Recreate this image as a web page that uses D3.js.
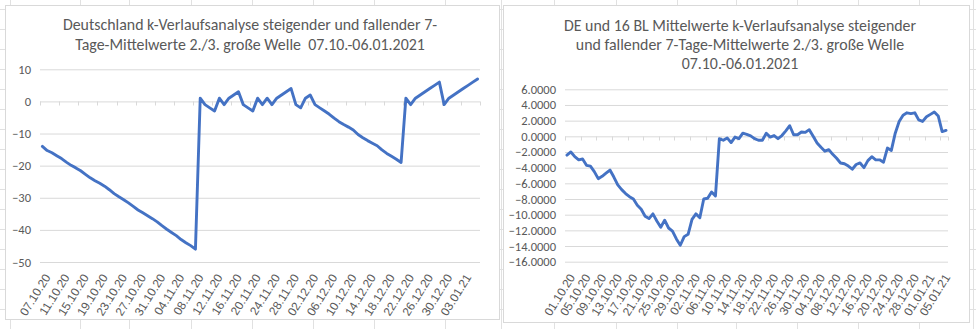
<!DOCTYPE html>
<html><head><meta charset="utf-8">
<script src="https://cdn.jsdelivr.net/npm/d3@7"></script>
<style>
html,body{margin:0;padding:0;background:#fff;}
svg{display:block;font-family:Carlito,Calibri,Lato,"Open Sans",sans-serif;}
</style></head>
<body><svg id="c" width="976" height="329"></svg>
<script>
// ---------- DATA ----------
const leftTitle = ["Deutschland k-Verlaufsanalyse steigender und fallender 7-",
                   "Tage-Mittelwerte 2./3. große Welle  07.10.-06.01.2021"];
const rightTitle = ["DE und 16 BL Mittelwerte k-Verlaufsanalyse steigender",
                    "und fallender 7-Tage-Mittelwerte 2./3. große Welle",
                    "07.10.-06.01.2021"];
const fmt = d3.timeFormat("%d.%m.%y");
const leftCategories = d3.timeDay.range(new Date(2020,9,7), new Date(2021,0,7)).map(fmt);
const rightCategories = d3.timeDay.range(new Date(2020,9,1), new Date(2021,0,7)).map(fmt);
const leftTickLabels = ["07.10.20","11.10.20","15.10.20","19.10.20","23.10.20","27.10.20","31.10.20",
  "04.11.20","08.11.20","12.11.20","16.11.20","20.11.20","24.11.20","28.11.20","02.12.20","06.12.20",
  "10.12.20","14.12.20","18.12.20","22.12.20","26.12.20","30.12.20","03.01.21"];
const rightTickLabels = ["01.10.20","05.10.20","09.10.20","13.10.20","17.10.20","21.10.20","25.10.20",
  "29.10.20","02.11.20","06.11.20","10.11.20","14.11.20","18.11.20","22.11.20","26.11.20","30.11.20",
  "04.12.20","08.12.20","12.12.20","16.12.20","20.12.20","24.12.20","28.12.20","01.01.21","05.01.21"];
const leftYTicks = [10,0,-10,-20,-30,-40,-50];
const rightYTicks = [6,4,2,0,-2,-4,-6,-8,-10,-12,-14,-16];
const leftValues = [
  -14,-15.3,-16,-16.9,-17.8,-18.9,-19.9,-20.7,-21.6,-22.7,-23.8,-24.7,-25.5,-26.4,-27.5,-28.7,
  -29.7,-30.6,-31.6,-32.7,-33.8,-34.7,-35.6,-36.5,-37.5,-38.7,-39.8,-40.8,-41.8,-43,-44,-44.9,-46,
  1,-1,-2,-3,1,-1,1,2,3,-1,-2,-3,1,-1,1,-1,1,2,3,4,-1,-2,1,2,-1,
  -2,-3,-4,-5.2,-6.3,-7.2,-8,-8.9,-10.3,-11.3,-12.2,-13,-13.8,-15.1,-16.2,-17.1,-18,-19,
  1,-1,1,2,3,4,5,6,-1,1,2,3,4,5,6,7];
const rightValues = [
  -2.4,-2.0,-2.6,-3.0,-2.9,-3.7,-3.8,-4.5,-5.4,-5.1,
  -4.7,-4.3,-5.2,-6.2,-6.8,-7.3,-7.7,-8.0,-8.8,-9.3,
  -10.2,-10.5,-9.9,-10.8,-11.6,-10.7,-11.7,-12.1,-13.1,-13.9,
  -12.8,-12.5,-10.6,-9.9,-10.4,-8.0,-7.9,-7.1,-7.6,-0.3,
  -0.5,-0.2,-0.8,-0.1,-0.3,0.4,0.25,0.05,-0.3,-0.5,
  -0.5,0.4,-0.1,0.1,-0.3,0.1,0.7,1.35,0.2,0.2,
  0.55,0.5,0.85,0.0,-0.85,-1.4,-1.9,-1.7,-2.3,-2.8,
  -3.4,-3.5,-3.8,-4.2,-3.6,-3.4,-4.0,-3.1,-2.6,-3.0,
  -3.0,-3.3,-1.5,-1.8,0.4,1.9,2.7,3.0,2.9,3.0,
  2.1,1.9,2.5,2.8,3.1,2.6,0.6,0.75];

// ---------- STYLE ----------
const TEXT = "#595959", GRID = "#d9d9d9", LINE = "#4472c4";
const svg = d3.select("#c");

// spreadsheet background grid
const sheetCols = [10,80,129,191,252,313,374,445,501,554,616,677,736,797,858,919,973];
const sheetRows = d3.range(9, 330, 20);
svg.append("g").selectAll("line.v").data(sheetCols).join("line")
  .attr("x1", d=>d+0.5).attr("x2", d=>d+0.5).attr("y1",0).attr("y2",329)
  .attr("stroke","#e1e1e1");
svg.append("g").selectAll("line.h").data(sheetRows).join("line")
  .attr("y1", d=>d+0.5).attr("y2", d=>d+0.5).attr("x1",0).attr("x2",976)
  .attr("stroke","#e1e1e1");

function chart(cfg){
  const g = svg.append("g");
  g.append("rect").attr("x",cfg.box[0]+0.5).attr("y",cfg.box[1]+0.5)
    .attr("width",cfg.box[2]).attr("height",cfg.box[3])
    .attr("fill","#fff").attr("stroke",GRID);
  // title
  g.append("g").selectAll("text").data(cfg.title).join("text")
    .attr("x",cfg.titleX).attr("y",(d,i)=>cfg.titleY + i*cfg.titleLH)
    .attr("text-anchor","middle").attr("fill",TEXT)
    .style("white-space","pre")
    .style("font-size",cfg.titleSize+"px").text(d=>d);
  const x = d3.scaleBand().domain(cfg.cats).range([cfg.x0,cfg.x1]).padding(0);
  const y = d3.scaleLinear().domain(cfg.yDomain).range([cfg.yBottom,cfg.yTop]);
  // gridlines + y labels via axis
  const ya = g.append("g").attr("transform",`translate(${cfg.x0},0)`)
    .call(d3.axisLeft(y).tickValues(cfg.yTicks).tickSize(-(cfg.x1-cfg.x0)).tickPadding(cfg.yPad).tickFormat(cfg.yFmt));
  ya.select(".domain").remove();
  ya.selectAll(".tick line").attr("stroke",GRID).attr("stroke-width",1);
  ya.selectAll(".tick text").attr("fill",TEXT).style("font-size","12.5px")
    .style("font-family","Carlito,Calibri,Lato,sans-serif");
  // category axis at y=0
  const y0 = Math.round(y(0))+0.5;
  const tickIdx = cfg.cats.map((c,i)=>i).filter(i=>i%4===0);
  g.append("g").selectAll("line").data(tickIdx.concat([cfg.cats.length])).join("line")
    .attr("x1",i=> i<cfg.cats.length ? Math.round(x(cfg.cats[i]))+0.5 : cfg.x1+0.5)
    .attr("x2",i=> i<cfg.cats.length ? Math.round(x(cfg.cats[i]))+0.5 : cfg.x1+0.5)
    .attr("y1",y0).attr("y2",y0+4).attr("stroke",GRID);
  // x labels (rotated)
  const xa = g.append("g").attr("transform",`translate(0,${cfg.labelY})`)
    .call(d3.axisBottom(x).tickValues(cfg.tickLabels.map(t=>cfg.cats[cfg.cats.indexOf(t)])).tickSize(0).tickPadding(0));
  xa.select(".domain").remove();
  xa.selectAll(".tick text")
    .attr("fill",TEXT).style("font-size","12px")
    .attr("text-anchor","end").attr("x",0).attr("y",0).attr("dy","0.35em")
    .attr("transform",`translate(5,0) rotate(-58)`);
  // line
  const line = d3.line().x((d,i)=>x(cfg.cats[i])+x.bandwidth()/2).y(d=>y(d));
  g.append("path").datum(cfg.values).attr("d",line)
    .attr("fill","none").attr("stroke",LINE).attr("stroke-width",2.9)
    .attr("stroke-linejoin","round").attr("stroke-linecap","round");
}

chart({box:[5,5,494,314], title:leftTitle, titleX:250, titleY:29.5, titleLH:20.5, titleSize:15.9,
  cats:leftCategories, values:leftValues, tickLabels:leftTickLabels,
  x0:40, x1:480, yDomain:[-50,10], yBottom:262, yTop:69.3, yTicks:leftYTicks, yPad:9,
  yFmt:d3.format("d"), labelY:275});

chart({box:[503,5,466,317], title:rightTitle, titleX:740, titleY:30.5, titleLH:19.3, titleSize:15.9,
  cats:rightCategories, values:rightValues, tickLabels:rightTickLabels,
  x0:565, x1:948, yDomain:[-16,6], yBottom:261.7, yTop:89.3, yTicks:rightYTicks, yPad:9,
  yFmt:d3.format(".4f"), labelY:275});
</script></body></html>
